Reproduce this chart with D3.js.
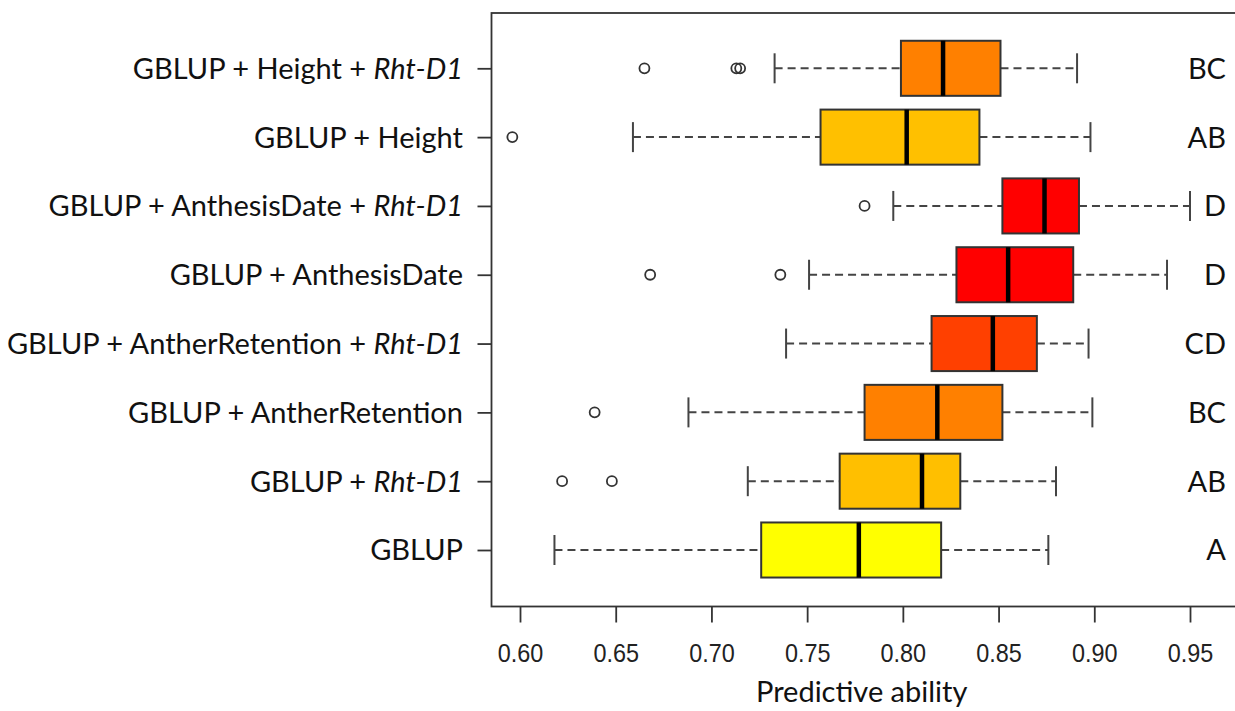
<!DOCTYPE html>
<html>
<head>
<meta charset="utf-8">
<script src="https://cdn.jsdelivr.net/npm/d3@7"></script>
<style>
  body { margin: 0; background: #fff; }
  svg { display: block; }
</style>
</head>
<body>
<svg width="1235" height="711"></svg>
<script>
// models, top to bottom
var categories = [
  "GBLUP + Height + Rht-D1",
  "GBLUP + Height",
  "GBLUP + AnthesisDate + Rht-D1",
  "GBLUP + AnthesisDate",
  "GBLUP + AntherRetention + Rht-D1",
  "GBLUP + AntherRetention",
  "GBLUP + Rht-D1",
  "GBLUP"
];
var whiskerLow  = [0.733, 0.659, 0.795, 0.751, 0.739, 0.688, 0.719, 0.618];
var q1          = [0.799, 0.757, 0.852, 0.828, 0.815, 0.780, 0.767, 0.726];
var median      = [0.821, 0.802, 0.874, 0.855, 0.847, 0.818, 0.810, 0.777];
var q3          = [0.851, 0.840, 0.892, 0.889, 0.870, 0.852, 0.830, 0.820];
var whiskerHigh = [0.891, 0.898, 0.950, 0.938, 0.897, 0.899, 0.880, 0.876];
var outliers = [[0.665, 0.713, 0.715], [0.596], [0.780], [0.668, 0.736], [], [0.639], [0.622, 0.648], []];
var letters = ["BC", "AB", "D", "D", "CD", "BC", "AB", "A"];
var colors = ["#FF8000", "#FFC000", "#FF0000", "#FF0000", "#FF4000", "#FF8000", "#FFBF00", "#FFFF00"];
var xTicks = [0.60, 0.65, 0.70, 0.75, 0.80, 0.85, 0.90, 0.95];

var frame = {left: 491.5, top: 13, right: 1236, bottom: 606.5};
var textFont = "Lato, 'Open Sans', sans-serif";

var svg = d3.select("svg");

var x = d3.scaleLinear().domain([0.60, 0.95]).range([520, 1190]);
var y = d3.scalePoint().domain(categories).range([68.3, 550]);
var half = 0.4 * y.step();
var cap = 15;

var data = categories.map(function(c, i) {
  return {name: c, lo: whiskerLow[i], q1: q1[i], med: median[i], q3: q3[i],
          hi: whiskerHigh[i], out: outliers[i], letter: letters[i], color: colors[i]};
});

// frame
svg.append("rect")
    .attr("x", frame.left).attr("y", frame.top)
    .attr("width", frame.right - frame.left).attr("height", frame.bottom - frame.top)
    .attr("fill", "none").attr("stroke", "#333").attr("stroke-width", 1.8);

// x axis
var xAxis = svg.append("g")
    .attr("transform", "translate(0," + frame.bottom + ")")
    .call(d3.axisBottom(x).tickValues(xTicks).tickFormat(d3.format(".2f")).tickSize(16).tickPadding(21));
xAxis.select(".domain").remove();
xAxis.selectAll("line").attr("stroke", "#333").attr("stroke-width", 1.8);
xAxis.selectAll("text")
    .attr("fill", "#222")
    .attr("transform", function() { return "scale(0.9,1)"; })
    .attr("x", function(d) { return 0; })
    .style("font-family", "'Liberation Sans', Arial, sans-serif")
    .style("font-size", "26px");

// y axis ticks + labels
var yAxis = svg.append("g")
    .attr("transform", "translate(" + frame.left + ",0)")
    .call(d3.axisLeft(y).tickSize(14).tickFormat(""));
yAxis.select(".domain").remove();
yAxis.selectAll("line").attr("stroke", "#333").attr("stroke-width", 1.8);

var labels = svg.append("g").selectAll("text")
    .data(data)
  .enter().append("text")
    .attr("x", 463)
    .attr("y", function(d) { return y(d.name); })
    .attr("dy", "0.36em")
    .attr("text-anchor", "end")
    .attr("fill", "#111")
    .style("font-family", textFont)
    .style("font-size", "29px");

labels.each(function(d) {
  var t = d3.select(this);
  var parts = d.name.split("Rht-D1");
  t.append("tspan").text(parts[0]);
  if (parts.length > 1) t.append("tspan").style("font-style", "italic").text("Rht-D1");
});

// boxes
var box = svg.append("g").selectAll("g")
    .data(data)
  .enter().append("g")
    .attr("transform", function(d) { return "translate(0," + y(d.name) + ")"; });

box.append("line")
    .attr("x1", function(d) { return x(d.lo); })
    .attr("x2", function(d) { return x(d.q1); })
    .attr("stroke", "#444").attr("stroke-width", 2).attr("stroke-dasharray", "8,5");
box.append("line")
    .attr("x1", function(d) { return x(d.q3); })
    .attr("x2", function(d) { return x(d.hi); })
    .attr("stroke", "#444").attr("stroke-width", 2).attr("stroke-dasharray", "8,5");

box.append("line")
    .attr("x1", function(d) { return x(d.lo); }).attr("x2", function(d) { return x(d.lo); })
    .attr("y1", -cap).attr("y2", cap)
    .attr("stroke", "#444").attr("stroke-width", 2);
box.append("line")
    .attr("x1", function(d) { return x(d.hi); }).attr("x2", function(d) { return x(d.hi); })
    .attr("y1", -cap).attr("y2", cap)
    .attr("stroke", "#444").attr("stroke-width", 2);

box.append("rect")
    .attr("x", function(d) { return x(d.q1); })
    .attr("y", -half)
    .attr("width", function(d) { return x(d.q3) - x(d.q1); })
    .attr("height", 2 * half)
    .attr("fill", function(d) { return d.color; })
    .attr("stroke", "#333").attr("stroke-width", 2);

box.append("line")
    .attr("x1", function(d) { return x(d.med); }).attr("x2", function(d) { return x(d.med); })
    .attr("y1", -half).attr("y2", half)
    .attr("stroke", "#000").attr("stroke-width", 4.5);

box.selectAll("circle")
    .data(function(d) { return d.out; })
  .enter().append("circle")
    .attr("cx", function(v) { return x(v); })
    .attr("r", 5)
    .attr("fill", "none").attr("stroke", "#333").attr("stroke-width", 1.8);

// significance letters
box.append("text")
    .attr("x", 1226)
    .attr("dy", "0.36em")
    .attr("text-anchor", "end")
    .attr("fill", "#111")
    .style("font-family", textFont)
    .style("font-size", "29px")
    .text(function(d) { return d.letter; });

// axis title
svg.append("text")
    .attr("x", x(0.7785))
    .attr("y", 702)
    .attr("text-anchor", "middle")
    .attr("fill", "#111")
    .style("font-family", textFont)
    .style("font-size", "29px")
    .text("Predictive ability");
</script>
</body>
</html>
